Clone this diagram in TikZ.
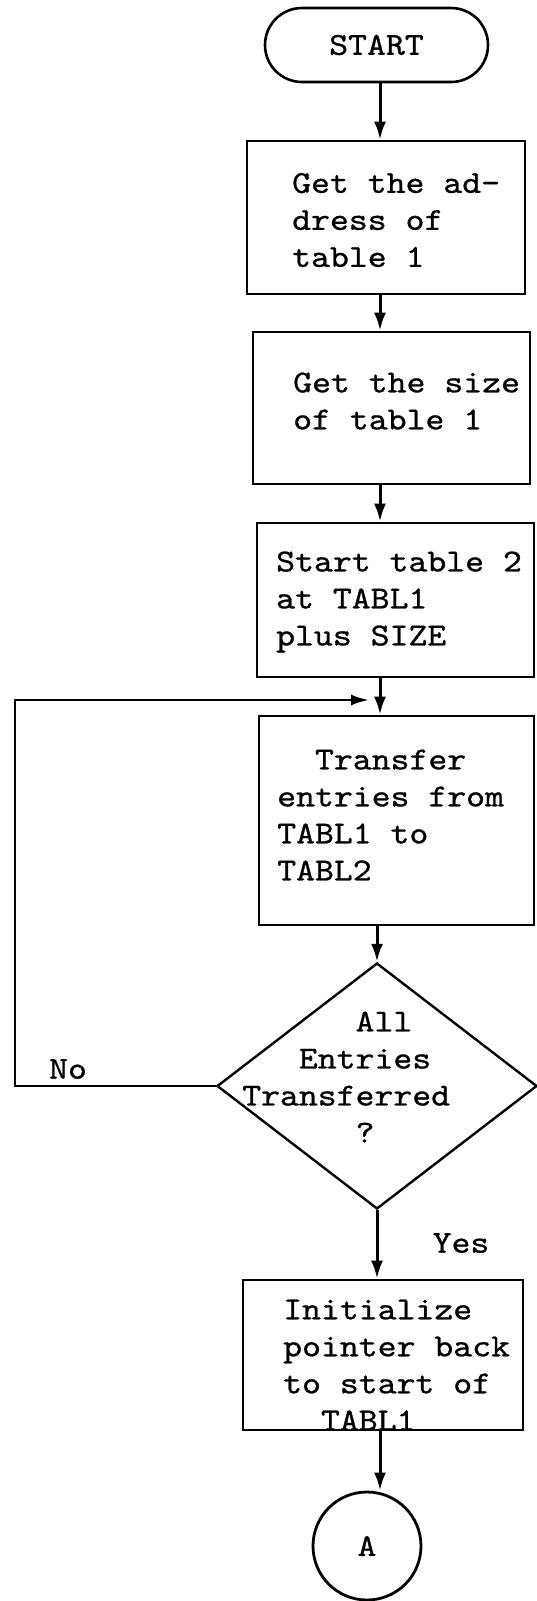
\documentclass[tikz,border=0pt]{standalone}
\usepackage{fontspec}
\newfontfamily\tw{lmmono10-regular.otf}[FakeStretch=1.125,FakeBold=0.8]
\usetikzlibrary{arrows.meta,shapes.geometric}
\begin{document}
\begin{tikzpicture}[x=1pt,y=-1pt,
  box/.style={draw, line width=2.6pt, rectangle, inner sep=0pt},
  txt/.style={font=\tw\fontsize{32}{37}\selectfont, align=left, inner sep=0pt, anchor=west},
  lab/.style={font=\tw\fontsize{32}{37}\selectfont, inner sep=0pt},
  flow/.style={line width=3pt, -{Latex[length=18pt,width=12pt]}},
  loopline/.style={line width=2.6pt, -{Latex[length=18pt,width=11pt]}}]
\fill[white] (0,0) rectangle (536,1601);
\useasboundingbox (0,0) rectangle (536,1601);
% shapes
\node[box, rounded corners=37pt, minimum width=223pt, minimum height=74pt, lab] (start) at (376.5,45) {START};
\node[box, minimum width=278pt, minimum height=153pt] (b1) at (386,217.5) {};
\node[box, minimum width=277pt, minimum height=152pt] (b2) at (391.5,408) {};
\node[box, minimum width=277pt, minimum height=154pt] (b3) at (395.5,600) {};
\node[box, minimum width=275pt, minimum height=209pt] (b4) at (396.5,820.5) {};
\node[draw, line width=2.4pt, diamond, inner sep=0pt, minimum width=320pt, minimum height=246pt] (d) at (377,1086) {};
\node[box, minimum width=280pt, minimum height=150pt] (b5) at (383,1355) {};
\node[draw, line width=2.8pt, circle, inner sep=0pt, minimum size=108pt, lab] (circ) at (367,1546) {A};
% texts
\node[txt] (t1) at (292,220) {Get the ad-\\dress of\\table 1};
\node[txt] (t2) at (293,401) {Get the size\\of table 1};
\node[txt] (t3) at (276,602) {Start table 2\\at TABL1\\plus SIZE};
\node[txt] (t4) at (277,815) {\phantom{xx}Transfer\\entries from\\TABL1 to\\TABL2};
\node[txt] (t5) at (242,1077) {\phantom{xxxxxx}All\\\phantom{xxx}Entries\\Transferred\\\phantom{xxxxxx}?};
\node[txt] (t6) at (283,1365) {Initialize\\pointer back\\to start of\\\phantom{xx}TABL1};
\node[lab] (no) at (68,1069) {No};
\node[lab] (yes) at (461,1243) {Yes};
% connectors
\coordinate (sp) at (380,0);
\coordinate (lx) at (15,0);
\coordinate (jn) at (369,700);
\draw[flow] (sp |- start.south) -- (sp |- b1.north);
\draw[flow] (sp |- b1.south) -- (sp |- b2.north);
\draw[flow] (sp |- b2.south) -- (sp |- b3.north);
\draw[flow] (sp |- b3.south) -- (sp |- b4.north);
\draw[flow] (d.north |- b4.south) -- (d.north);
\draw[flow] (d.south) -- (d.south |- b5.north);
\draw[flow] (sp |- b5.south) -- (sp |- circ.north);
\draw[loopline] (d.west) -- (d.west -| lx) -- (lx |- jn) -- (jn);
\end{tikzpicture}
\end{document}
